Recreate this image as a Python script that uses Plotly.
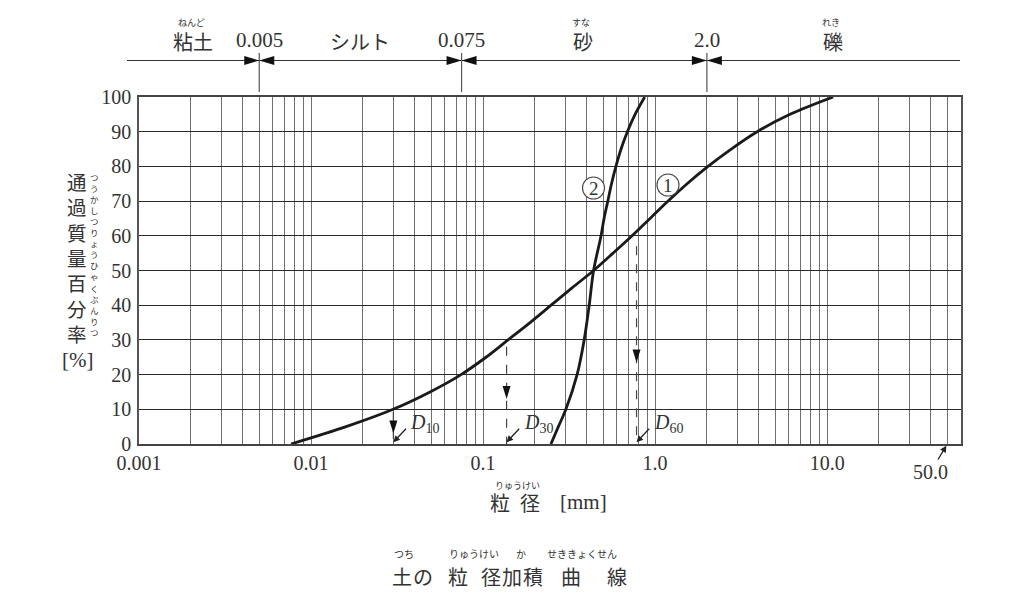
import math
import plotly.graph_objects as go

# ---------------- data ----------------
curve1_pct = [0, 5, 10, 15, 20, 25, 30, 35, 40, 45, 50, 55, 60, 65, 70, 75, 80, 85, 90, 95, 100]
curve1_d = [0.00765, 0.0160, 0.0300, 0.0492, 0.0745, 0.104, 0.1397, 0.1876, 0.2485, 0.329,
            0.439, 0.570, 0.735, 0.935, 1.19, 1.535, 2.03, 2.77, 3.92, 6.09, 10.84]

curve2_pct = [0, 5, 10, 20, 30, 40, 50, 60, 65, 70, 75, 80, 85, 90, 95, 100]
curve2_d = [0.248, 0.274, 0.303, 0.352, 0.387, 0.414, 0.439, 0.485, 0.505, 0.531,
            0.558, 0.592, 0.634, 0.69, 0.765, 0.87]

d_names = ["10", "30", "60"]
d_sizes = [0.0301, 0.137, 0.78]
d_start_pct = [9.3, 28, 57]
d_head_pct = [3, 13, 23.5]

boundary_sizes = [0.005, 0.075, 2.0]
boundary_labels = ["0.005", "0.075", "2.0"]

soil_names = ["粘土", "シルト", "砂", "礫"]
soil_ruby = ["ねんど", "", "すな", "れき"]

y_ticks = [0, 10, 20, 30, 40, 50, 60, 70, 80, 90, 100]
x_major = [0.001, 0.01, 0.1, 1.0, 10.0]
x_major_labels = ["0.001", "0.01", "0.1", "1.0", "10.0"]
x_extra = [20, 30, 40, 50]

# ---------------- layout helpers ----------------
OFF = 8                      # page body margin of the browser
W, H = 1018 - 2 * OFF, 608 - 2 * OFF
L, R, T, B = 139, 961, 97, 444   # plot area in screenshot pixels
PW, PH = R - L, B - T


def pxx(x):
    return (x - L) / PW


def pxy(y):
    return (B - y) / PH


SERIF = "Liberation Serif, DejaVu Serif, serif"
JP = "Noto Sans CJK JP, sans-serif"
TXT = "#333333"

grid_vals = []
grid_text = []
for e in range(-3, 2):
    for m in range(1, 10):
        v = m * 10 ** e
        grid_vals.append(v)
        grid_text.append(x_major_labels[x_major.index(v)] if v in x_major else "")
for v in x_extra:
    grid_vals.append(v)
    grid_text.append("")

fig = go.Figure()

for xs, ys in [(curve1_d, curve1_pct), (curve2_d, curve2_pct)]:
    fig.add_trace(go.Scatter(x=xs, y=ys, mode="lines",
                             line=dict(color="#1a1a1a", width=2.8, shape="spline", smoothing=1.0),
                             hoverinfo="skip", showlegend=False, cliponaxis=False))

shapes = []
annotations = []

# --- top band: classification line, ticks and arrow heads
shapes.append(dict(type="line", xref="paper", yref="paper",
                   x0=pxx(127), x1=pxx(960), y0=pxy(60.5), y1=pxy(60.5),
                   line=dict(color="#333", width=1.2)))
for b in boundary_sizes:
    shapes.append(dict(type="line", xref="x", yref="paper", x0=b, x1=b,
                       y0=pxy(92), y1=pxy(53), line=dict(color="#555", width=1.2)))
    for sgn in (-1, 1):
        shapes.append(dict(type="path", xref="x", yref="paper", xsizemode="pixel",
                           ysizemode="pixel", xanchor=b, yanchor=pxy(60.5),
                           path=f"M 0,0 L {15 * sgn},4.5 L {15 * sgn},-4.5 Z",
                           fillcolor="#111", line=dict(width=0)))

for b, lab in zip(boundary_sizes, boundary_labels):
    annotations.append(dict(x=math.log10(b), xref="x", y=pxy(40), yref="paper", text=lab,
                            showarrow=False, xanchor="center", yanchor="middle",
                            font=dict(family=SERIF, size=21, color=TXT)))

soil_px = [193, 360, 583, 833]
for name, ruby, xp in zip(soil_names, soil_ruby, soil_px):
    annotations.append(dict(x=pxx(xp), xref="paper", y=pxy(41), yref="paper", text=name,
                            showarrow=False, xanchor="center", yanchor="middle",
                            font=dict(family=JP, size=20, color=TXT)))
    if ruby:
        annotations.append(dict(x=pxx(xp - 2), xref="paper", y=pxy(22), yref="paper", text=ruby,
                                showarrow=False, xanchor="center", yanchor="middle",
                                font=dict(family=JP, size=9, color=TXT)))

# --- D10 / D30 / D60 dashed arrows
for name, d, p, hp in zip(d_names, d_sizes, d_start_pct, d_head_pct):
    shapes.append(dict(type="line", xref="x", yref="y", x0=d, x1=d, y0=p, y1=0,
                       line=dict(color="#444", width=1.2, dash="dash")))
    shapes.append(dict(type="path", xref="x", yref="y", xsizemode="pixel", ysizemode="pixel",
                       xanchor=d, yanchor=hp,
                       path="M 0,0 L -4,13 L 4,13 Z",
                       fillcolor="#111", line=dict(width=0)))
    annotations.append(dict(x=math.log10(d), xref="x", y=0.5, yref="y", text="",
                            showarrow=True, ax=14, ay=-15, arrowhead=2, arrowsize=1,
                            arrowwidth=1.3, arrowcolor="#222", standoff=0))
    annotations.append(dict(x=math.log10(d), xref="x", y=pxy(423), yref="paper",
                            xshift=15, text="<i>D</i><sub>" + name + "</sub>",
                            showarrow=False, xanchor="left", yanchor="middle",
                            font=dict(family=SERIF, size=20, color=TXT)))

# --- circled curve numbers
for num, cx, cy in [("1", 668, 185), ("2", 593.5, 188)]:
    shapes.append(dict(type="circle", xref="paper", yref="paper", xsizemode="pixel",
                       ysizemode="pixel", xanchor=pxx(cx), yanchor=pxy(cy),
                       x0=-11, x1=11, y0=-11, y1=11,
                       line=dict(color="#444", width=1.1), fillcolor="white"))
    annotations.append(dict(x=pxx(cx), xref="paper", y=pxy(cy + 0.5), yref="paper", text=num,
                            showarrow=False, xanchor="center", yanchor="middle",
                            font=dict(family=SERIF, size=19, color=TXT)))

# --- 50.0 label with arrow
annotations.append(dict(x=math.log10(50), xref="x", y=0, yref="y", text="50.0",
                        showarrow=True, ax=-17, ay=28, arrowhead=2, arrowsize=1,
                        arrowwidth=1.3, arrowcolor="#222", standoff=2,
                        font=dict(family=SERIF, size=20, color=TXT)))

# --- y axis title (vertical, with ruby)
annotations.append(dict(x=pxx(77), xref="paper", y=pxy(257.5), yref="paper",
                        text="<br>".join(list("通過質量百分率")),
                        showarrow=False, xanchor="center", yanchor="middle",
                        font=dict(family=JP, size=19.5, color=TXT)))
annotations.append(dict(x=pxx(94), xref="paper", y=pxy(254), yref="paper",
                        text="<br>".join(list("つうかしつりょうひゃくぶんりつ")),
                        showarrow=False, xanchor="center", yanchor="middle",
                        font=dict(family=JP, size=8.5, color=TXT)))
annotations.append(dict(x=pxx(77), xref="paper", y=pxy(360), yref="paper", text="[%]",
                        showarrow=False, xanchor="center", yanchor="middle",
                        font=dict(family=SERIF, size=21, color=TXT)))

# --- x axis title
for t, xp, fam, sz in [("粒", 500, JP, 20), ("径", 530, JP, 20), ("[mm]", 583, SERIF, 21)]:
    annotations.append(dict(x=pxx(xp), xref="paper", y=pxy(502), yref="paper", text=t,
                            showarrow=False, xanchor="center", yanchor="middle",
                            font=dict(family=fam, size=sz, color=TXT)))
annotations.append(dict(x=pxx(517), xref="paper", y=pxy(485), yref="paper", text="りゅうけい",
                        showarrow=False, xanchor="center", yanchor="middle",
                        font=dict(family=JP, size=9, color=TXT)))

# --- caption
for t, xp in [("土", 402), ("の", 423), ("粒", 458), ("径", 491), ("加", 512),
              ("積", 533), ("曲", 571), ("線", 617)]:
    annotations.append(dict(x=pxx(xp), xref="paper", y=pxy(576), yref="paper", text=t,
                            showarrow=False, xanchor="center", yanchor="middle",
                            font=dict(family=JP, size=20, color=TXT)))
for t, xp in [("つち", 404), ("りゅうけい", 474), ("か", 521), ("せききょくせん", 582)]:
    annotations.append(dict(x=pxx(xp), xref="paper", y=pxy(553), yref="paper", text=t,
                            showarrow=False, xanchor="center", yanchor="middle",
                            font=dict(family=JP, size=10, color=TXT)))

fig.update_layout(
    width=W, height=H,
    margin=dict(l=L - OFF, r=W - (R - OFF), t=T - OFF, b=H - (B - OFF), pad=0),
    paper_bgcolor="white", plot_bgcolor="white",
    showlegend=False,
    shapes=shapes,
    annotations=annotations,
    xaxis=dict(type="log", range=[-3, math.log10(60)], tickmode="array",
               tickvals=grid_vals, ticktext=grid_text, showgrid=True,
               gridcolor="#707070", gridwidth=1.2, ticks="", ticklabelstandoff=0,
               tickfont=dict(family=SERIF, size=20, color=TXT),
               showline=True, mirror=True, linecolor="#444", linewidth=1.5,
               zeroline=False, fixedrange=True),
    yaxis=dict(range=[0, 100], tickmode="array", tickvals=y_ticks,
               ticktext=[str(v) for v in y_ticks], showgrid=True,
               gridcolor="#2a2a2a", gridwidth=1, ticks="", ticklabelstandoff=2,
               tickfont=dict(family=SERIF, size=20, color=TXT),
               showline=True, mirror=True, linecolor="#555", linewidth=1.6,
               zeroline=False, fixedrange=True),
)

fig.write_html("out.html")
